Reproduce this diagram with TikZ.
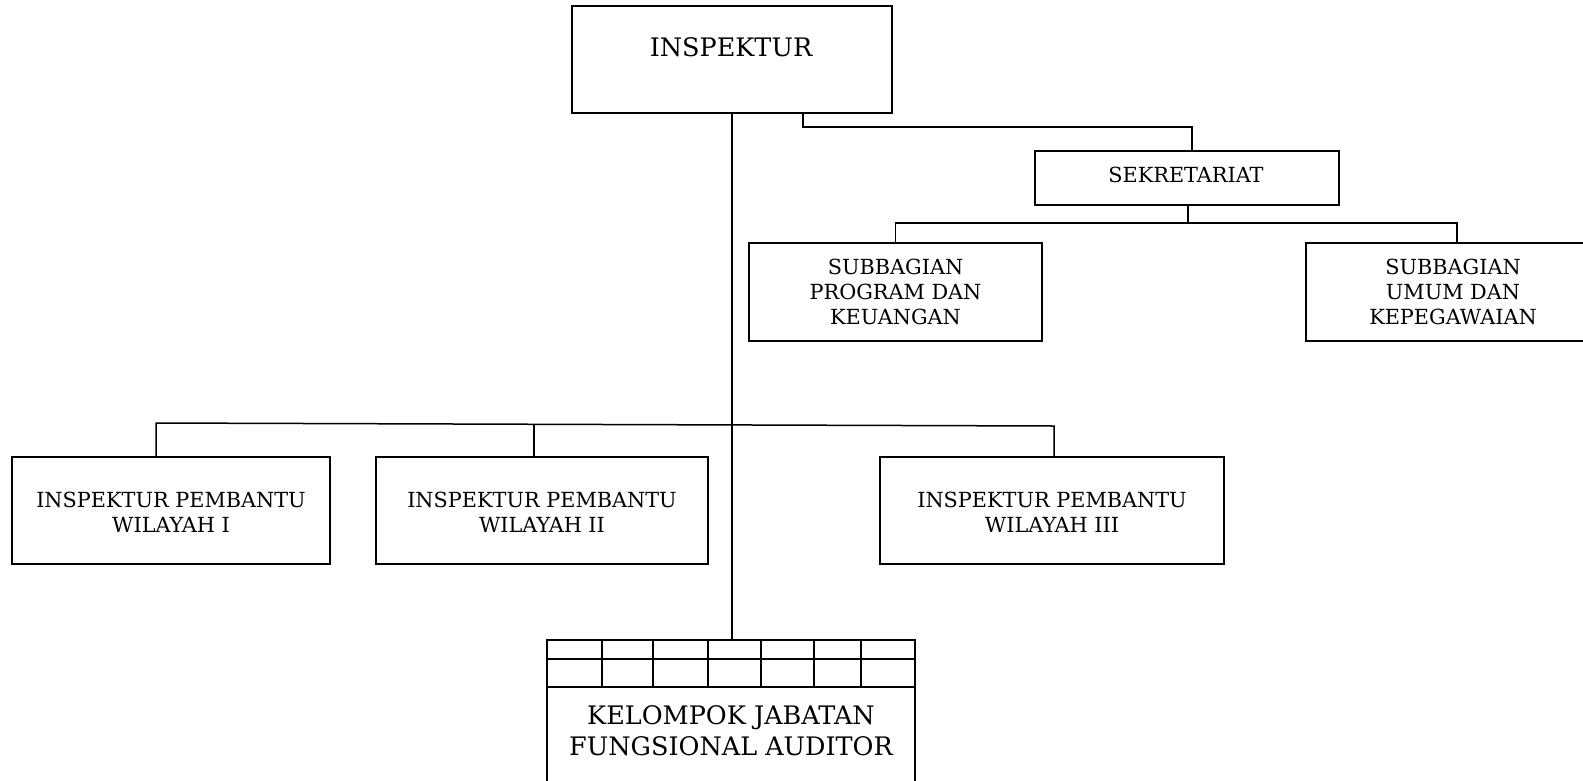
\documentclass[tikz,border=0pt]{standalone}
\usepackage{fontspec}
\setmainfont{DejaVu Serif}
\usetikzlibrary{calc}
\tikzset{
  box/.style={draw, line width=1.7pt, rectangle, inner sep=0pt},
  lbl/.style={align=center, inner sep=0pt, font=\fontsize{20.8}{24.8}\selectfont},
  big/.style={align=center, inner sep=0pt, font=\fontsize{25.5}{31.5}\selectfont},
  conn/.style={line width=1.5pt},
}
\begin{document}
\begin{tikzpicture}[x=1pt,y=-1pt]
\useasboundingbox (0,0) rectangle (1583,780);
% boxes
\node[box, minimum width=320pt, minimum height=107pt] (insp) at (732,59.5) {};
\node[big] at (731,47.5) {INSPEKTUR};
\node[box, minimum width=304pt, minimum height=54pt] (sekr) at (1187,178) {};
\node[lbl] at (1186,175) {SEKRETARIAT};
\node[box, minimum width=293pt, minimum height=98pt] (spk) at (895.5,292) {};
\node[lbl] at (895.5,292) {SUBBAGIAN\\PROGRAM DAN\\KEUANGAN};
\node[box, minimum width=284pt, minimum height=98pt] (suk) at (1448,292) {};
\node[lbl] at (1453,292) {SUBBAGIAN\\UMUM DAN\\KEPEGAWAIAN};
\node[box, minimum width=318pt, minimum height=107pt] (ip1) at (171,510.5) {};
\node[lbl] at (171,512) {INSPEKTUR PEMBANTU\\WILAYAH I};
\node[box, minimum width=332pt, minimum height=107pt] (ip2) at (542,510.5) {};
\node[lbl] at (542,512) {INSPEKTUR PEMBANTU\\WILAYAH II};
\node[box, minimum width=344pt, minimum height=107pt] (ip3) at (1052,510.5) {};
\node[lbl] at (1052,512) {INSPEKTUR PEMBANTU\\WILAYAH III};
% KJFA
\node[box, minimum width=368pt, minimum height=160pt, anchor=north] (kj) at (731,639) {};
\draw[box] ($(kj.north west)+(0,20)$) -- ($(kj.north east)+(0,20)$);
\draw[box] ($(kj.north west)+(0,48)$) -- ($(kj.north east)+(0,48)$);
\foreach \xx in {602,653,708,761,814,861}
  \draw[box] (\xx,639) -- (\xx,687);
\node[big] at (731,730.5) {KELOMPOK JABATAN\\FUNGSIONAL AUDITOR};
% connectors
\draw[conn] (insp.south) -- (insp.south |- kj.north);
\coordinate (a1) at (803,127);
\coordinate (a2) at (1192,127);
\draw[conn] (insp.south -| a1) -- (a1) -- (a2) -- (a2 |- sekr.north);
\coordinate (b1) at (1188,223);
\coordinate (b2) at (1457,223);
\draw[conn] (sekr.south -| b1) -- (b1);
\draw[conn] (spk.north) |- (b1) -- (b2) -- (b2 |- suk.north);
\coordinate (hl) at (156,423);
\coordinate (hr) at (1054,426);
\coordinate (hm) at ($(hl)!0.421!(hr)$);
\draw[conn] (ip1.north -| hl) -- (hl) -- (hr) -- (ip3.north -| hr);
\draw[conn] (hm) -- (hm |- ip2.north);
\end{tikzpicture}
\end{document}
